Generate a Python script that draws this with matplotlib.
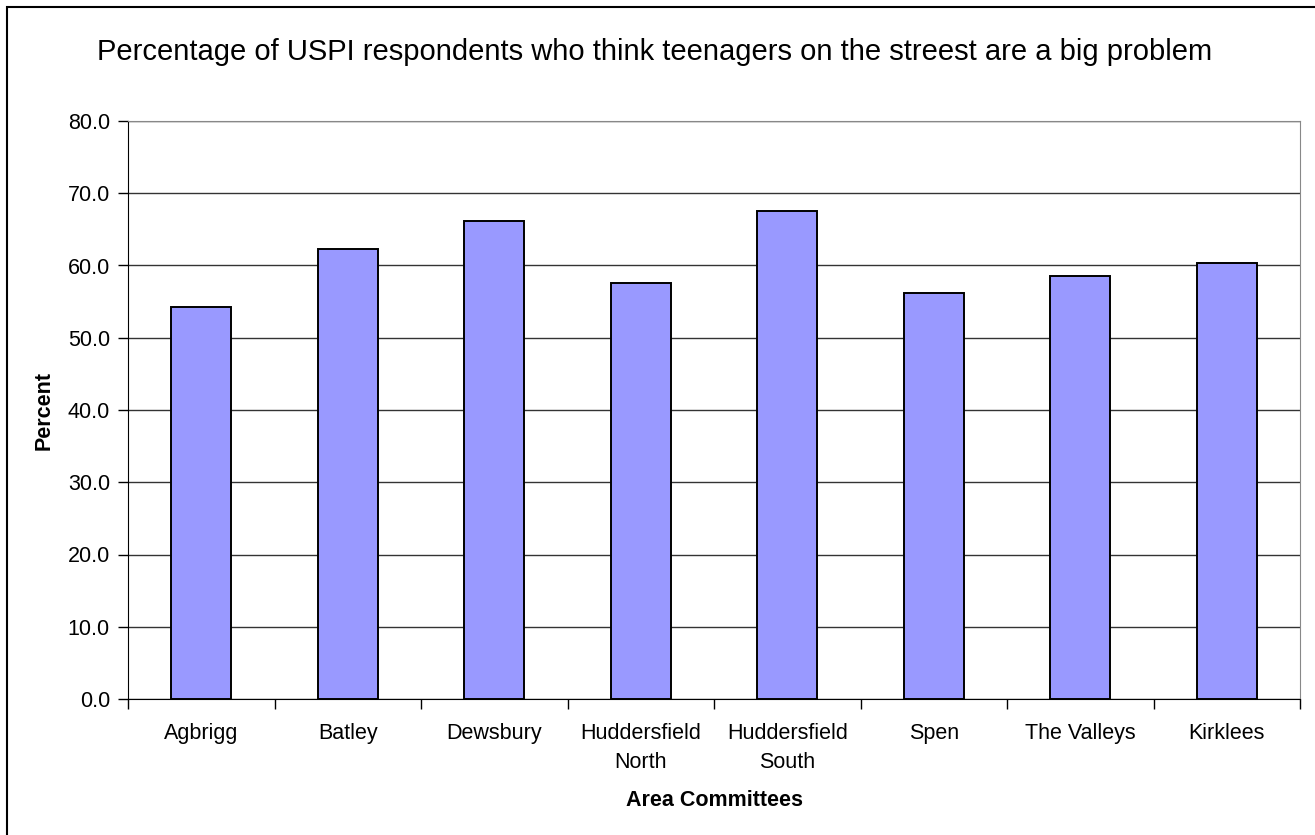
import numpy as np
import matplotlib.pyplot as plt
from matplotlib.patches import Rectangle

plt.rcParams["font.family"] = ["Liberation Sans", "DejaVu Sans"]

areas = ["Agbrigg", "Batley", "Dewsbury", "Huddersfield\nNorth",
         "Huddersfield\nSouth", "Spen", "The Valleys", "Kirklees"]
percent = [54.2, 62.3, 66.1, 57.6, 67.5, 56.2, 58.5, 60.4]
yticks = [0, 10, 20, 30, 40, 50, 60, 70, 80]

W, H = 1315, 835
fig = plt.figure(figsize=(W / 100, H / 100), dpi=100)
ax = fig.add_axes([128 / W, 1 - 699 / H, 1172 / W, 578 / H])

# outer chart frame (only top and left edges show in the picture)
fig.patches.append(Rectangle((7 / W, -0.1), 1.2, 1 - 7 / H + 0.1,
                             transform=fig.transFigure, fill=False,
                             edgecolor="black", linewidth=1.5))

x = np.arange(len(areas))
ax.bar(x, percent, width=0.41, color="#9999ff", edgecolor="black",
       linewidth=1.4, zorder=3)

ax.set_xlim(-0.5, len(areas) - 0.5)
ax.set_ylim(0, 80)
ax.set_yticks(yticks)
ax.set_yticklabels([f"{v:.1f}" for v in yticks], fontsize=15.5)
ax.yaxis.grid(True, color="#333333", linewidth=1.0, zorder=0)
ax.set_axisbelow(True)

ax.set_xticks(x)
ax.set_xticklabels(areas, fontsize=15.5, linespacing=1.5)
ax.tick_params(axis="x", length=0, pad=17)
ax.set_xticks(np.arange(len(areas) + 1) - 0.5, minor=True)
ax.tick_params(axis="x", which="minor", length=7, direction="out", width=1)
ax.tick_params(axis="y", length=7, direction="out", width=1, pad=6)

for s in ["left", "bottom"]:
    ax.spines[s].set_color("black")
for s in ["top", "right"]:
    ax.spines[s].set_color("#888888")

ax.set_ylabel("Percent", fontsize=15.5, fontweight="bold")
ax.yaxis.label.set_va("center")
ax.yaxis.set_label_coords((44 - 128) / 1172, 0.5)
ax.set_xlabel("Area Committees", fontsize=15.5, fontweight="bold")
ax.xaxis.label.set_va("center")
ax.xaxis.set_label_coords((715 - 128) / 1172, (699 - 800) / 578)

fig.text(655 / W, 1 - 60 / H,
         "Percentage of USPI respondents who think teenagers on the streest are a big problem",
         ha="center", va="baseline", fontsize=21)

fig.savefig("out.png", dpi=100)
